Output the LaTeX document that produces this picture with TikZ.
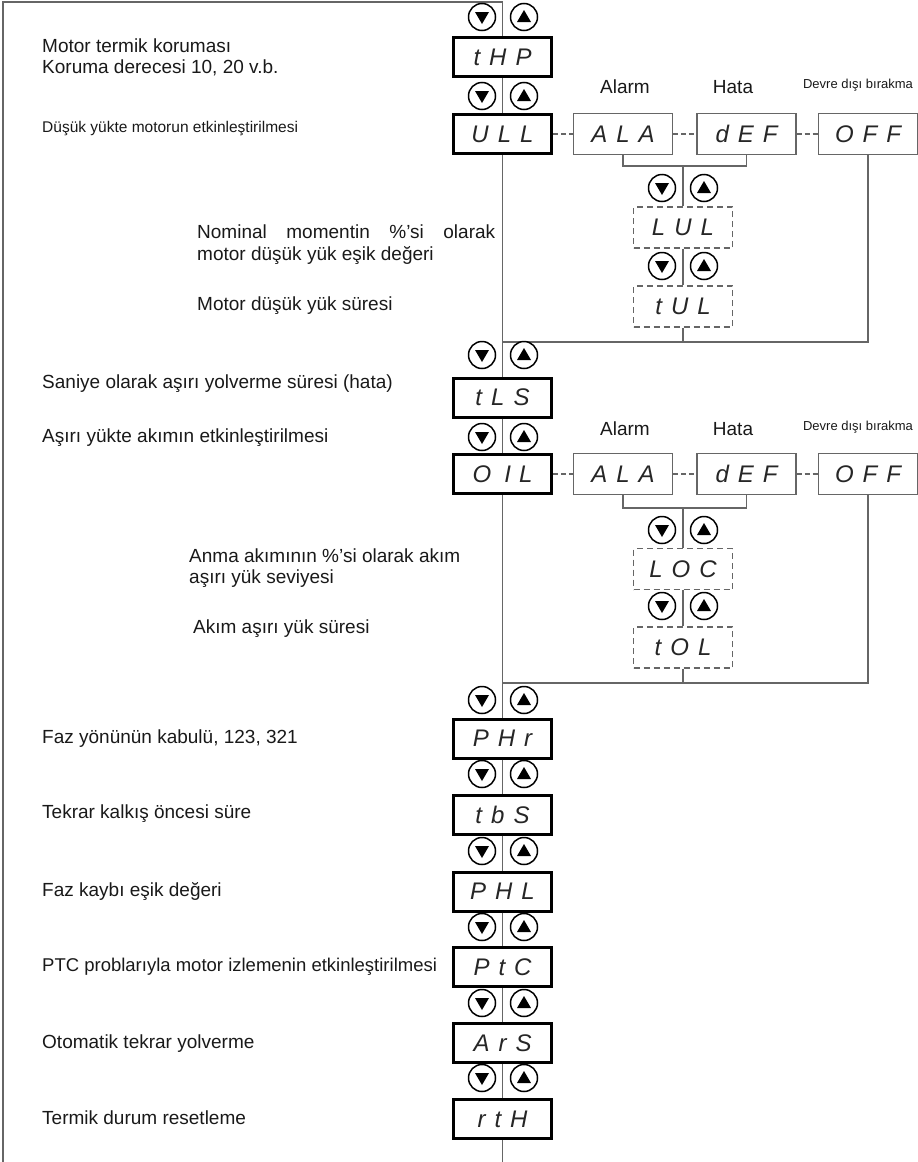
\documentclass[tikz,border=0pt]{standalone}
\usepackage{fontspec}
\setmainfont{Liberation Sans}
\usetikzlibrary{calc}
\newcommand\mysegf{\itshape\fontsize{24}{24}\selectfont}
\newcommand\mylbf{\fontsize{19}{22}\selectfont}
\newcommand\sgap{\hspace{9pt}}
\newcommand\btnpair[3]{%
  \node[btn] (#1d) at (#2-21,#3) {};
  \node[btn] (#1u) at (#2+21,#3) {};
  \fill ($(#1d)+(-7,-5)$) -- ($(#1d)+(7,-5)$) -- ($(#1d)+(0,7)$) -- cycle;
  \fill ($(#1u)+(-7,5)$) -- ($(#1u)+(7,5)$) -- ($(#1u)+(0,-7)$) -- cycle;
}
\begin{document}
\begin{tikzpicture}[x=1pt,y=-1pt,
  ln/.style={draw=black!60, line width=1.2pt},
  dln/.style={ln, dash pattern=on 5pt off 3pt},
  mainbox/.style={draw=black, line width=3pt, fill=white, minimum width=98pt, minimum height=39pt, inner sep=0pt, font=\mysegf, text=black!85},
  subbox/.style={draw=black!60, line width=1.2pt, fill=white, minimum width=99pt, minimum height=41pt, inner sep=0pt, font=\mysegf, text=black!85},
  dbox/.style={subbox, dash pattern=on 6pt off 4pt},
  btn/.style={circle, draw=black, line width=1.5pt, fill=white, minimum size=27pt, inner sep=0pt},
  lbl/.style={anchor=base west, inner sep=0pt, font=\mylbf, text=black!90},
  hdr/.style={anchor=base, inner sep=0pt, font=\mylbf, text=black!90},
]
\useasboundingbox (0,0) rectangle (918,1162);

% main column boxes
\node[mainbox] (tHP) at (502.5,57) {t\sgap H\sgap P};
\node[mainbox] (ULL) at (502.5,134) {U\sgap L\sgap L};
\node[mainbox] (tLS) at (502.5,397.5) {t\sgap L\sgap S};
\node[mainbox] (OIL) at (502.5,474) {O\sgap\,I\,\,L};
\node[mainbox] (PHr) at (502.5,738.5) {P\sgap H\sgap r};
\node[mainbox] (tbS) at (502.5,814.5) {t\sgap b\sgap S};
\node[mainbox] (PHL) at (502.5,891.5) {P\sgap H\sgap L};
\node[mainbox] (PtC) at (502.5,967) {P\sgap t\sgap C};
\node[mainbox] (ArS) at (502.5,1043) {A\sgap r\sgap S};
\node[mainbox] (rtH) at (502.5,1119) {r\sgap t\sgap H};

% first option row
\node[subbox] (ALAa) at (623,134) {A\sgap L\sgap A};
\node[subbox] (dEFa) at (746.5,134) {d\sgap E\sgap F};
\node[subbox] (OFFa) at (868,134) {O\sgap F\sgap F};
\node[dbox] (LUL) at (683,227.5) {L\sgap U\sgap L};
\node[dbox] (tUL) at (683,306.5) {t\sgap U\sgap L};

% second option row
\node[subbox] (ALAb) at (623,474) {A\sgap L\sgap A};
\node[subbox] (dEFb) at (746.5,474) {d\sgap E\sgap F};
\node[subbox] (OFFb) at (868,474) {O\sgap F\sgap F};
\node[dbox] (LOC) at (683,569) {L\sgap O\sgap C};
\node[dbox] (tOL) at (683,647.5) {t\sgap O\sgap L};

% coordinates
\coordinate (tl) at (3,2);
\coordinate (tr) at (502.5,2);
\coordinate (bl) at (3,1162);
\coordinate (bend) at (502.5,1162);
\coordinate (ja) at (683,166);
\coordinate (ha) at (502.5,342);
\coordinate (jb) at (683,508);
\coordinate (hb) at (502.5,683);

% main lines
\draw[ln] (bl) -- (tl) -- (tr) -- (tHP.north);
\draw[ln] (tHP) -- (ULL);
\draw[ln] (ULL) -- (tLS);
\draw[ln] (tLS) -- (OIL);
\draw[ln] (OIL) -- (PHr);
\draw[ln] (PHr) -- (tbS);
\draw[ln] (tbS) -- (PHL);
\draw[ln] (PHL) -- (PtC);
\draw[ln] (PtC) -- (ArS);
\draw[ln] (ArS) -- (rtH);
\draw[ln] (rtH) -- (bend);

% first branch
\draw[dln] (ULL.east) -- (ULL.east -| ALAa.west);
\draw[dln] (ALAa.east) -- (ALAa.east -| dEFa.west);
\draw[dln] (dEFa.east) -- (dEFa.east -| OFFa.west);
\draw[ln] (ALAa.south) |- (ja) -| (dEFa.south);
\draw[ln] (ja) -- (LUL);
\draw[ln] (LUL) -- (tUL);
\draw[ln] (tUL) -- (tUL.south |- ha);
\draw[ln] (OFFa.south) |- (ha);

% second branch
\draw[dln] (OIL.east) -- (OIL.east -| ALAb.west);
\draw[dln] (ALAb.east) -- (ALAb.east -| dEFb.west);
\draw[dln] (dEFb.east) -- (dEFb.east -| OFFb.west);
\draw[ln] (ALAb.south) |- (jb) -| (dEFb.south);
\draw[ln] (jb) -- (LOC);
\draw[ln] (LOC) -- (tOL);
\draw[ln] (tOL) -- (tOL.south |- hb);
\draw[ln] (OFFb.south) |- (hb);

% buttons
\btnpair{b1}{503}{17}
\btnpair{b2}{503}{96}
\btnpair{b3}{683}{188}
\btnpair{b4}{683}{266}
\btnpair{b5}{503}{355}
\btnpair{b6}{503}{437}
\btnpair{b7}{683}{530}
\btnpair{b8}{683}{606}
\btnpair{b9}{503}{700}
\btnpair{b10}{503}{774}
\btnpair{b11}{503}{851}
\btnpair{b12}{503}{927}
\btnpair{b13}{503}{1003}
\btnpair{b14}{503}{1078}

% headers
\node[hdr] (hA1) at (625,93) {Alarm};
\node[hdr] (hH1) at (733,93) {Hata};
\node[hdr, font=\fontsize{13}{15}\selectfont] (hD1) at (858,88) {Devre dışı bırakma};
\node[hdr] (hA2) at (625,435) {Alarm};
\node[hdr] (hH2) at (733,435) {Hata};
\node[hdr, font=\fontsize{13}{15}\selectfont] (hD2) at (858,430) {Devre dışı bırakma};

% left texts
\node[lbl] (t1a) at (42,52) {Motor termik koruması};
\node[lbl] (t1b) at (42,73) {Koruma derecesi 10, 20 v.b.};
\node[lbl, font=\fontsize{15.5}{18}\selectfont] (t2) at (42,132) {Düşük yükte motorun etkinleştirilmesi};
\node[lbl] (t3a) at (197,238) {\makebox[298pt][s]{Nominal momentin \%’si olarak}};
\node[lbl] (t3b) at (197,260) {motor düşük yük eşik değeri};
\node[lbl] (t4) at (197,310) {Motor düşük yük süresi};
\node[lbl] (t5) at (42,388) {Saniye olarak aşırı yolverme süresi (hata)};
\node[lbl] (t6) at (42,442) {Aşırı yükte akımın etkinleştirilmesi};
\node[lbl] (t7a) at (189,562) {Anma akımının \%’si olarak akım};
\node[lbl] (t7b) at (189,583) {aşırı yük seviyesi};
\node[lbl] (t8) at (193,633) {Akım aşırı yük süresi};
\node[lbl] (t9) at (42,743) {Faz yönünün kabulü, 123, 321};
\node[lbl] (t10) at (42,818) {Tekrar kalkış öncesi süre};
\node[lbl] (t11) at (42,896) {Faz kaybı eşik değeri};
\node[lbl, font=\fontsize{18.5}{21}\selectfont] (t12) at (42,971) {PTC problarıyla motor izlemenin etkinleştirilmesi};
\node[lbl] (t13) at (42,1048) {Otomatik tekrar yolverme};
\node[lbl] (t14) at (42,1124) {Termik durum resetleme};
\end{tikzpicture}
\end{document}
